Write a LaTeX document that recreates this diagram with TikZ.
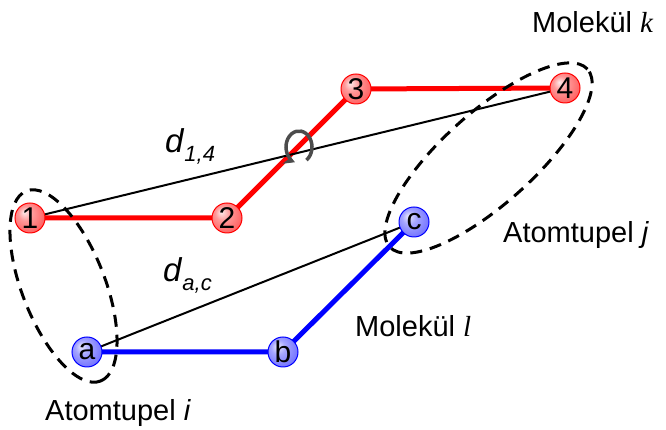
\documentclass[tikz,border=0pt]{standalone}
\usepackage{fontspec}
\setmainfont{Liberation Sans}
\newfontfamily\serifit{Liberation Serif}
\usetikzlibrary{arrows.meta,backgrounds}
\pgfdeclareradialshading{redball}{\pgfpoint{-10bp}{10bp}}{color(0bp)=(red!8!white); color(12bp)=(red!40!white); color(30bp)=(red!62!white); color(50bp)=(red!72!white)}
\pgfdeclareradialshading{blueball}{\pgfpoint{-10bp}{10bp}}{color(0bp)=(blue!8!white); color(12bp)=(blue!35!white); color(30bp)=(blue!55!white); color(50bp)=(blue!62!white)}
\begin{document}
\begin{tikzpicture}[x=1pt,y=1pt,
  atom/.style={circle, minimum size=30pt, inner sep=0pt, font=\fontsize{30}{30}\selectfont, line width=1pt},
  ratom/.style={atom, draw=red, shading=redball},
  batom/.style={atom, draw=blue, shading=blueball},
  rbond/.style={red, line width=5pt},
  bbond/.style={blue, line width=5pt},
  dist/.style={black, line width=2pt},
  tupel/.style={black, line width=3pt, dash pattern=on 12pt off 8pt},
  rotarrow/.style={draw=black!70, line width=3.5pt, -{Stealth[length=11pt,width=12pt]}},
  lbl/.style={anchor=base west, inner sep=0pt, font=\fontsize{29}{34}\selectfont}]
\useasboundingbox (0,0) rectangle (666,430);
% atoms
\node[ratom] (n1) at (30,212) {1};
\node[ratom] (n2) at (227,212) {2};
\node[ratom] (n3) at (356,341) {3};
\node[ratom] (n4) at (565,342) {4};
\node[batom] (na) at (87,78) {a};
\node[batom] (nb) at (283,78) {b};
\node[batom] (nc) at (414,208) {c};
% bonds and distances
\begin{pgfonlayer}{background}
\draw[rbond] (n1.center) -- (n2.center) -- (n3.center) -- (n4.center);
\draw[bbond] (na.center) -- (nb.center) -- (nc.center);
\draw[dist] (n1.center) -- (n4.center);
\draw[dist] (na.center) -- (nc.center);
\end{pgfonlayer}
% rotation
\draw[rotarrow] (299,283) ++(-55:13 and 16) arc[start angle=-55, end angle=252, x radius=13, y radius=16];
% atom tuples
\draw[tupel, rotate around={-68.7:(63.5,144)}] (63.5,144) ellipse[x radius=102, y radius=41.5];
\draw[tupel, rotate around={41.9:(488.5,272)}] (488.5,272) ellipse[x radius=133, y radius=45.6];
% labels
\node[lbl] (molk) at (532,397) {Molekül {\serifit\itshape k}};
\node[lbl] (moll) at (355,93) {Molekül {\serifit\itshape l}};
\node[lbl] (tupi) at (45,9) {Atomtupel \textit{i}};
\node[lbl] (tupj) at (503,187) {Atomtupel \textit{j}};
\node[lbl, font=\fontsize{33}{36}\selectfont] (d14) at (165,277) {\textit{d}\raisebox{-9pt}{\fontsize{22}{22}\selectfont\itshape 1,4}};
\node[lbl, font=\fontsize{33}{36}\selectfont] (dac) at (163,148) {\textit{d}\raisebox{-9pt}{\fontsize{22}{22}\selectfont\itshape a,c}};
\end{tikzpicture}
\end{document}
